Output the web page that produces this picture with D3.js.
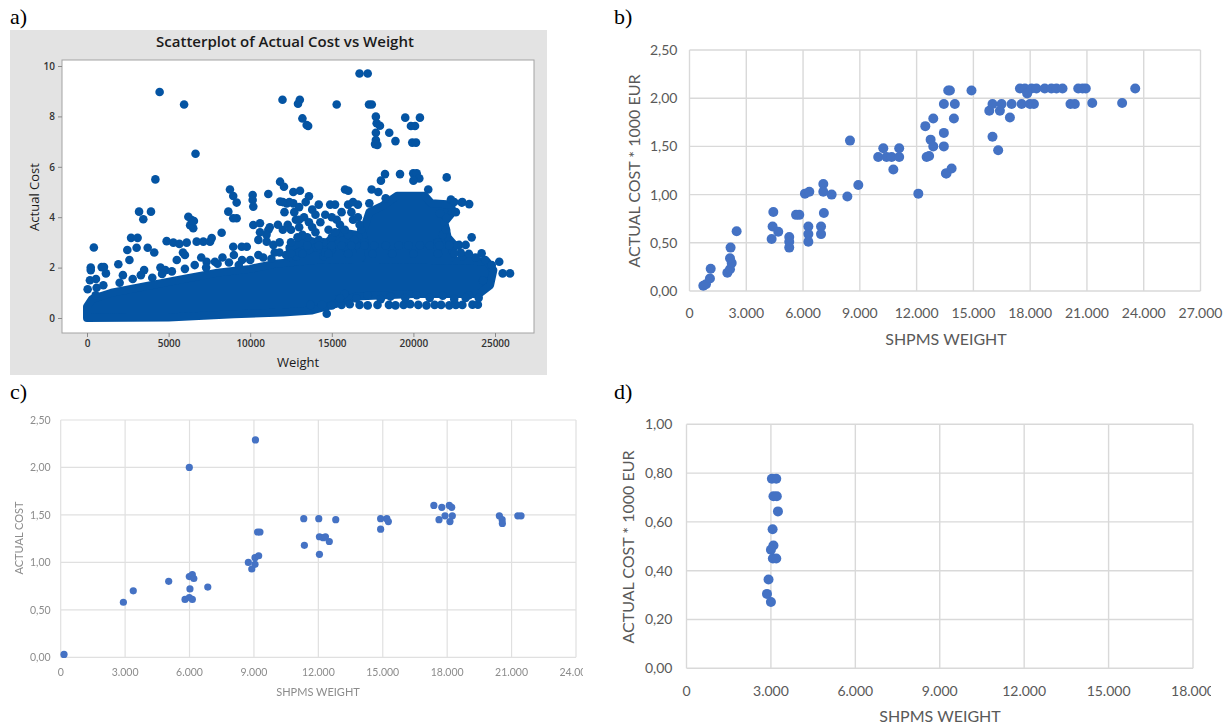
<!DOCTYPE html>
<html>
<head>
<meta charset="utf-8">
<script src="https://cdn.jsdelivr.net/npm/d3@7"></script>
<style>
  body { margin: 0; background: #fff; }
  svg { display: block; }
</style>
</head>
<body>
<svg id="chart" width="1227" height="724"></svg>
<script>
// ---------- data ----------
// panel a: Minitab scatter (weight, actual cost)
const aTicksX = [0, 5000, 10000, 15000, 20000, 25000];
const aTicksY = [0, 2, 4, 6, 8, 10];
// dense cloud outlines
const aDenseLower = [[0, 0.0], [5000, 0.02], [9000, 0.15], [12000, 0.22], [13800, 0.3], [15200, 0.55], [16500, 0.85],
  [20000, 0.95], [24000, 0.95], [24700, 1.3], [24900, 1.9], [24500, 2.25], [21000, 2.3], [17000, 2.35], [14000, 2.3],
  [11500, 2.15], [10000, 1.95], [8000, 1.8], [5500, 1.5], [3500, 1.25], [1500, 1.0], [300, 0.75], [0, 0.45]];
const aDenseUpper = [[17000, 2.4], [16900, 3.4], [17300, 4.2], [18100, 4.45], [19000, 4.85], [20700, 4.85], [21100, 4.55],
  [22300, 4.5], [22400, 4.2], [21900, 3.8], [22100, 3.2], [22500, 2.9], [22300, 2.4]];
const aDenseMiddle = [[12500, 2.4], [12400, 2.8], [13500, 3.1], [14500, 2.9], [15500, 3.4], [16600, 3.3], [16800, 2.4]];
const aPoints = [
  [4450, 8.97], [5950, 8.47], [6650, 6.52], [4190, 5.5],
  [11980, 8.66], [12930, 8.5], [13040, 8.66], [13200, 7.92], [13550, 7.62], [13460, 7.66], [15300, 8.47],
  [16700, 9.7], [17200, 9.7], [17280, 8.47], [17450, 8.47],
  [17700, 7.99], [17750, 7.73], [17950, 7.63], [17700, 7.35], [17700, 7.06], [17790, 6.87], [17650, 6.9],
  [18520, 7.35], [18900, 7.02], [19500, 7.95], [20400, 7.95], [19850, 7.62], [20100, 7.62], [19930, 6.96], [20160, 6.96],
  [11830, 5.41], [12070, 5.21],
  [18260, 5.71], [19180, 5.71], [19990, 5.74], [20200, 5.74], [20360, 5.54], [22040, 5.58], [18010, 5.45], [20000, 5.45],
  [15810, 5.1], [16010, 5.05], [17440, 5.1], [17850, 5.0], [20910, 5.1],
  [22960, 4.58], [23420, 4.52], [23570, 3.2], [24180, 2.57], [25260, 2.23], [25470, 1.77], [25920, 1.77], [24270, 1.5],
  [8760, 5.1], [8960, 4.84], [9170, 4.58], [8660, 4.22], [9170, 3.96], [8960, 3.96],
  [10150, 4.88], [10150, 4.68], [11110, 4.92], [10190, 4.42], [11830, 4.62], [12240, 4.55], [12640, 4.55],
  [12640, 5.0], [13050, 5.05], [13600, 4.83],
  [10190, 3.69], [10600, 3.76], [11110, 3.49], [10500, 3.1], [11010, 3.03], [11420, 2.9],
  [8960, 2.83], [9480, 2.83], [9790, 2.83], [8250, 3.38], [7330, 2.23], [7840, 2.23],
  [6210, 4.02], [6410, 3.89], [6510, 3.56], [6320, 3.68], [6550, 3.85],
  [6720, 3.03], [7130, 3.03], [7540, 3.03], [7640, 3.17],
  [4880, 3.05], [5290, 2.99], [5660, 2.94], [6110, 2.99], [5880, 2.6],
  [3190, 4.22], [3450, 3.92], [3920, 4.22],
  [2700, 3.18], [3100, 3.18], [3040, 2.79], [3720, 2.79], [4120, 2.6], [2470, 2.7],
  [420, 2.8], [230, 2.0], [230, 1.9], [900, 2.02], [1040, 2.02], [180, 1.5], [550, 1.55], [40, 1.14], [590, 1.2],
  [1160, 1.77], [1920, 2.13], [530, 0.9],
  [2600, 2.3], [2200, 1.7], [4500, 2.0], [4800, 1.9], [3500, 1.9], [6000, 2.5], [5500, 2.3], [7000, 2.4], [8300, 2.4],
  [9000, 2.5], [9500, 2.3], [10500, 2.5], [11500, 2.6],
  [1000, 1.3], [2000, 1.4], [2800, 1.55], [3300, 1.7], [4000, 1.6], [4600, 1.75], [5200, 1.85], [6000, 1.95], [6600, 2.1],
  [7300, 2.0], [8000, 2.15], [8700, 2.2], [9300, 2.1], [10000, 2.3], [10800, 2.4], [11300, 2.35], [12800, 2.45],
  [14500, 2.45], [23000, 2.45], [23800, 2.4], [24400, 2.3], [24800, 2.1],
  [15800, 0.95], [17200, 0.9], [18600, 0.85], [20200, 0.9], [21800, 0.88], [23400, 0.9],
  [11700, 3.7], [12000, 3.5], [12300, 3.7], [12100, 4.2], [12400, 4.6], [12000, 4.6], [12800, 3.9], [13000, 3.6],
  [13300, 4.0], [13600, 3.8], [13000, 4.4], [13400, 4.6], [13800, 4.3], [14000, 3.4], [14300, 3.8], [14600, 4.1],
  [14900, 4.5], [15200, 4.5], [14500, 3.0], [15000, 3.2], [15500, 3.7], [15600, 4.2], [16000, 4.5], [16300, 3.9],
  [16600, 4.0], [16800, 3.5], [16500, 2.9], [15800, 2.8], [15000, 2.7], [14000, 2.8], [13000, 2.6], [12500, 3.0],
  [11800, 3.0], [11000, 3.3], [11200, 3.6], [10600, 3.4], [11800, 2.6], [13500, 3.2], [12200, 2.5], [16000, 3.3],
  [17000, 3.0], [16600, 4.5], [16700, 3.7], [15300, 3.9], [14200, 4.5], [12700, 4.2], [13200, 3.3], [14800, 3.5], [16200, 4.2],
  [12500, 3.5], [13000, 3.9], [13800, 3.6], [14200, 3.1], [15200, 3.4], [15800, 3.5], [16400, 3.1], [14600, 2.6],
  [13600, 2.7], [12900, 3.2], [15000, 4.0], [14000, 4.1], [16300, 4.6], [17300, 4.55], [18300, 4.75],
  [22300, 4.7], [22000, 4.0], [22500, 4.6], [23000, 4.6], [22800, 2.9], [22200, 2.9], [21800, 3.3], [22000, 3.5],
  [21500, 3.0], [21630, 4.14], [22600, 4.2], [22900, 2.6], [23200, 2.9],
  [13500, 2.88], [14200, 2.88], [15000, 2.88], [15600, 2.88], [16200, 2.88], [17000, 2.88], [17600, 2.88], [18300, 2.88],
  [19100, 2.88], [19700, 2.88], [20400, 2.88], [21000, 2.88], [21600, 2.88], [22200, 2.88], [22700, 2.88],
  [12500, 2.55], [13200, 2.55], [14800, 2.55], [16000, 2.55], [17500, 2.55], [18700, 2.55], [20000, 2.55], [21500, 2.55],
  [22500, 2.55], [23400, 2.55],
  [13700, 0.52], [14400, 0.52], [15000, 0.5], [15600, 0.52], [16100, 0.55], [16700, 0.52], [17200, 0.5], [17800, 0.52],
  [18500, 0.52], [18900, 0.5], [19400, 0.52], [19800, 0.55], [20300, 0.52], [20800, 0.5], [21300, 0.52], [21700, 0.52],
  [22200, 0.5], [22600, 0.52], [23000, 0.52], [23620, 0.53], [23950, 0.53],
  [15500, 0.78], [16500, 0.78], [18000, 0.75], [19500, 0.8], [21000, 0.8], [22500, 0.75], [23200, 0.8], [24000, 0.8],
  [14690, 0.17]
];

// panel b: shipments weight vs cost * 1000 EUR
const bTicksX = [0, 3000, 6000, 9000, 12000, 15000, 18000, 21000, 24000, 27000];
const bTicksY = [0, 0.5, 1, 1.5, 2, 2.5];
const bWeight = [730, 870, 1080, 1120, 2000, 2140, 2230, 2140, 2170, 2490, 4340, 4390, 4690, 4430, 5270, 5270, 5270,
  5630, 5800, 6280, 6280, 6280, 6100, 6330, 6950, 6950, 7100, 7070, 7070, 7510, 8340, 8480, 8920, 9970, 10240, 10410,
  10680, 11080, 11080, 10770, 12090, 12460, 12880, 12530, 12740, 12880, 12660, 13440, 13440, 13550, 13440, 13670,
  13760, 14020, 13970, 13580, 13850, 14900, 15840, 16010, 16490, 16400, 17020, 16930, 16010, 16310, 17550, 17990,
  18200, 17460, 17720, 18070, 18330, 18770, 19120, 19390, 19710, 17840, 20540, 20770, 20940, 20130, 20360, 21280,
  22860, 23550];
const bCost = [0.055, 0.07, 0.13, 0.23, 0.19, 0.225, 0.29, 0.34, 0.45, 0.62, 0.54, 0.67, 0.615, 0.82, 0.56, 0.51, 0.45,
  0.79, 0.79, 0.67, 0.59, 0.51, 1.01, 1.03, 0.67, 0.59, 0.81, 1.11, 1.03, 1.0, 0.98, 1.56, 1.10, 1.39, 1.48, 1.39,
  1.39, 1.48, 1.39, 1.26, 1.01, 1.71, 1.79, 1.39, 1.57, 1.5, 1.40, 1.64, 1.5, 1.22, 1.94, 2.08,
  2.08, 1.94, 1.79, 1.22, 1.27, 2.08, 1.87, 1.94, 1.94, 1.87, 1.94, 1.80, 1.60, 1.46, 1.94, 1.94,
  1.94, 2.10, 2.10, 2.10, 2.10, 2.10, 2.10, 2.10, 2.10, 2.05, 2.10, 2.10, 2.10, 1.94, 1.94, 1.95,
  1.95, 2.10];

// panel c: shipments weight vs actual cost
const cTicksX = [0, 3000, 6000, 9000, 12000, 15000, 18000, 21000, 24000];
const cTicksY = [0, 0.5, 1, 1.5, 2, 2.5];
const cWeight = [154, 2920, 3380, 5030, 5990, 5790, 5990, 6130, 6020, 5990, 6130, 6200, 6850, 9070, 8740, 8900, 9050,
  9050, 9220, 9170, 9280, 11320, 11350, 12020, 12050, 12050, 12230, 12330, 12510, 12810, 14900, 15190, 15260, 14900,
  17380, 17750, 17620, 17900, 18100, 18210, 18240, 18130, 20430, 20560, 20570, 21290, 21440];
const cCost = [0.03, 0.58, 0.70, 0.80, 2.00, 0.61, 0.63, 0.61, 0.72, 0.85, 0.87, 0.83, 0.74, 2.29, 1.00, 0.93, 0.98,
  1.05, 1.07, 1.32, 1.32, 1.46, 1.18, 1.46, 1.085, 1.27, 1.26, 1.27, 1.22, 1.45, 1.46, 1.46, 1.43, 1.35,
  1.60, 1.58, 1.45, 1.49, 1.60, 1.58, 1.49, 1.43, 1.49, 1.45, 1.41, 1.49, 1.49];

// panel d: one weight class
const dTicksX = [0, 3000, 6000, 9000, 12000, 15000, 18000];
const dTicksY = [0, 0.2, 0.4, 0.6, 0.8, 1];
const dWeight = [3035, 3190, 3090, 3210, 3250, 3060, 3090, 3000, 3070, 3190, 2915, 2860, 3000];
const dCost = [0.777, 0.777, 0.705, 0.705, 0.643, 0.57, 0.503, 0.486, 0.45, 0.45, 0.364, 0.305, 0.272];

// ---------- drawing ----------
const svg = d3.select("#chart");
const loc = d3.formatLocale({decimal: ",", thousands: ".", grouping: [3], currency: ["", " €"]});
const fmtX = loc.format(",");
const fmtY = loc.format(",.2f");

// panel letters
[["a)", 10, 24], ["b)", 614, 24], ["c)", 10, 399], ["d)", 614, 399]].forEach(function(p) {
  svg.append("text").attr("x", p[1]).attr("y", p[2])
    .style("font-family", "'Liberation Serif', 'Times New Roman', serif")
    .style("font-size", "22px").style("fill", "#000").text(p[0]);
});

// ---- panel a ----
(function() {
  const g = svg.append("g");
  const blue = "#0454a3";
  g.append("rect").attr("x", 10).attr("y", 30).attr("width", 537).attr("height", 345).attr("fill", "#e3e3e3");
  g.append("rect").attr("x", 62).attr("y", 60).attr("width", 472).attr("height", 273)
    .attr("fill", "#fff").attr("stroke", "#a3a3a3").attr("stroke-width", 1);

  const x = d3.scaleLinear().domain([0, 25000]).range([87, 495]);
  const y = d3.scaleLinear().domain([0, 10]).range([318, 66]);

  const font = "'Open Sans', 'Noto Sans', sans-serif";
  g.append("text").attr("x", 285).attr("y", 47).attr("text-anchor", "middle")
    .style("font-family", font).style("font-size", "15px").style("font-weight", 600).style("fill", "#1a1a1a")
    .text("Scatterplot of Actual Cost vs Weight");

  const xa = g.append("g").attr("transform", "translate(0,333)")
    .call(d3.axisBottom(x).tickValues(aTicksX).tickFormat(d3.format("d")).tickSize(4).tickPadding(3));
  const ya = g.append("g").attr("transform", "translate(62,0)")
    .call(d3.axisLeft(y).tickValues(aTicksY).tickSize(4).tickPadding(3));
  [xa, ya].forEach(function(a) {
    a.select(".domain").remove();
    a.selectAll("line").attr("stroke", "#8a8a8a");
    a.selectAll("text").style("font-family", font).style("font-size", "10px")
      .style("font-weight", 600).style("fill", "#333");
  });

  g.append("text").attr("x", 298).attr("y", 367).attr("text-anchor", "middle")
    .style("font-family", font).style("font-size", "13px").style("font-weight", 500).style("fill", "#1a1a1a").text("Weight");
  g.append("text").attr("transform", "translate(39,197) rotate(-90)").attr("text-anchor", "middle")
    .style("font-family", font).style("font-size", "13px").style("font-weight", 500).style("fill", "#1a1a1a").text("Actual Cost");

  const clip = g.append("clipPath").attr("id", "clipA");
  clip.append("rect").attr("x", 62.5).attr("y", 60.5).attr("width", 471).attr("height", 272);
  const plot = g.append("g").attr("clip-path", "url(#clipA)");

  const area = d3.line().x(function(d) { return x(d[0]); }).y(function(d) { return y(d[1]); }).curve(d3.curveLinearClosed);
  [aDenseLower, aDenseUpper, aDenseMiddle].forEach(function(poly) {
    plot.append("path").attr("d", area(poly)).attr("fill", blue)
      .attr("stroke", blue).attr("stroke-width", 8).attr("stroke-linejoin", "round");
  });
  plot.selectAll("circle.a").data(aPoints).enter().append("circle")
    .attr("cx", function(d) { return x(d[0]); })
    .attr("cy", function(d) { return y(d[1]); })
    .attr("r", 4.3).attr("fill", blue);
})();

// ---- excel style panels ----
function excelPanel(cfg) {
  const g = svg.append("g");
  if (cfg.clipRight) {
    const id = "clip" + cfg.name;
    g.append("clipPath").attr("id", id).append("rect").attr("x", 0).attr("y", 0)
      .attr("width", cfg.clipRight).attr("height", 724);
    g.attr("clip-path", "url(#" + id + ")");
  }
  const inner = g.append("g");
  if (cfg.blur) {
    const f = svg.append("filter").attr("id", "blur" + cfg.name);
    f.append("feGaussianBlur").attr("stdDeviation", cfg.blur);
    inner.attr("filter", "url(#blur" + cfg.name + ")");
  }
  const x = d3.scaleLinear().domain([0, d3.max(cfg.ticksX)]).range(cfg.xRange);
  const y = d3.scaleLinear().domain([0, d3.max(cfg.ticksY)]).range(cfg.yRange);

  inner.selectAll("line.v").data(cfg.ticksX).enter().append("line")
    .attr("x1", function(d) { return x(d); }).attr("x2", function(d) { return x(d); })
    .attr("y1", cfg.yRange[0]).attr("y2", cfg.yRange[1])
    .attr("stroke", cfg.grid).attr("stroke-width", cfg.gridW);
  inner.selectAll("line.h").data(cfg.ticksY).enter().append("line")
    .attr("y1", function(d) { return y(d); }).attr("y2", function(d) { return y(d); })
    .attr("x1", cfg.xRange[0]).attr("x2", cfg.xRange[1])
    .attr("stroke", cfg.grid).attr("stroke-width", cfg.gridW);

  inner.selectAll("circle").data(cfg.w).enter().append("circle")
    .attr("cx", function(d) { return x(d); })
    .attr("cy", function(d, i) { return y(cfg.c[i]); })
    .attr("r", cfg.r).attr("fill", "#4472c4");

  const ts = cfg.tickFont;
  inner.selectAll("text.yt").data(cfg.ticksY).enter().append("text")
    .attr("x", cfg.xRange[0] - cfg.yPad).attr("y", function(d) { return y(d); }).attr("dy", "0.35em")
    .attr("text-anchor", "end")
    .style("font-family", "Lato, 'Open Sans', sans-serif").style("font-size", ts + "px").style("fill", cfg.txt)
    .text(fmtY);
  inner.selectAll("text.xt").data(cfg.ticksX).enter().append("text")
    .attr("x", function(d) { return x(d); }).attr("y", cfg.xTickY).attr("text-anchor", "middle")
    .style("font-family", "Lato, 'Open Sans', sans-serif").style("font-size", ts + "px").style("fill", cfg.txt)
    .text(fmtX);

  inner.append("text").attr("x", cfg.xLabelPos[0]).attr("y", cfg.xLabelPos[1]).attr("text-anchor", "middle")
    .style("font-family", "Lato, 'Open Sans', sans-serif").style("font-size", cfg.labelFont + "px")
    .style("fill", cfg.txt).text(cfg.xLabel);
  inner.append("text")
    .attr("transform", "translate(" + cfg.yLabelPos[0] + "," + cfg.yLabelPos[1] + ") rotate(-90)")
    .attr("text-anchor", "middle")
    .style("font-family", "Lato, 'Open Sans', sans-serif").style("font-size", cfg.labelFont + "px")
    .style("fill", cfg.txt).text(cfg.yLabel);
}

excelPanel({
  name: "B", ticksX: bTicksX, ticksY: bTicksY, w: bWeight, c: bCost,
  xRange: [689.5, 1200.5], yRange: [291, 50], r: 5,
  grid: "#d9d9d9", gridW: 1.4, txt: "#595959", tickFont: 14, yPad: 12, xTickY: 318,
  labelFont: 16, xLabel: "SHPMS WEIGHT", xLabelPos: [946, 345],
  yLabel: "ACTUAL COST * 1000 EUR", yLabelPos: [640, 171]
});

excelPanel({
  name: "C", ticksX: cTicksX, ticksY: cTicksY, w: cWeight, c: cCost,
  xRange: [60.7, 576], yRange: [657.3, 420], r: 3.6,
  grid: "#e0e0e0", gridW: 1.2, txt: "#8c8c8c", tickFont: 10.5, yPad: 10, xTickY: 676,
  labelFont: 11, xLabel: "SHPMS WEIGHT", xLabelPos: [318, 696],
  yLabel: "ACTUAL COST", yLabelPos: [23, 538], clipRight: 583, blur: 0.45
});

excelPanel({
  name: "D", ticksX: dTicksX, ticksY: dTicksY, w: dWeight, c: dCost,
  xRange: [686.5, 1193], yRange: [668.3, 424.3], r: 5,
  grid: "#d9d9d9", gridW: 1.4, txt: "#595959", tickFont: 14, yPad: 14, xTickY: 696,
  labelFont: 16, xLabel: "SHPMS WEIGHT", xLabelPos: [940, 722],
  yLabel: "ACTUAL COST * 1000 EUR", yLabelPos: [634, 547], clipRight: 1211
});
</script>
</body>
</html>
